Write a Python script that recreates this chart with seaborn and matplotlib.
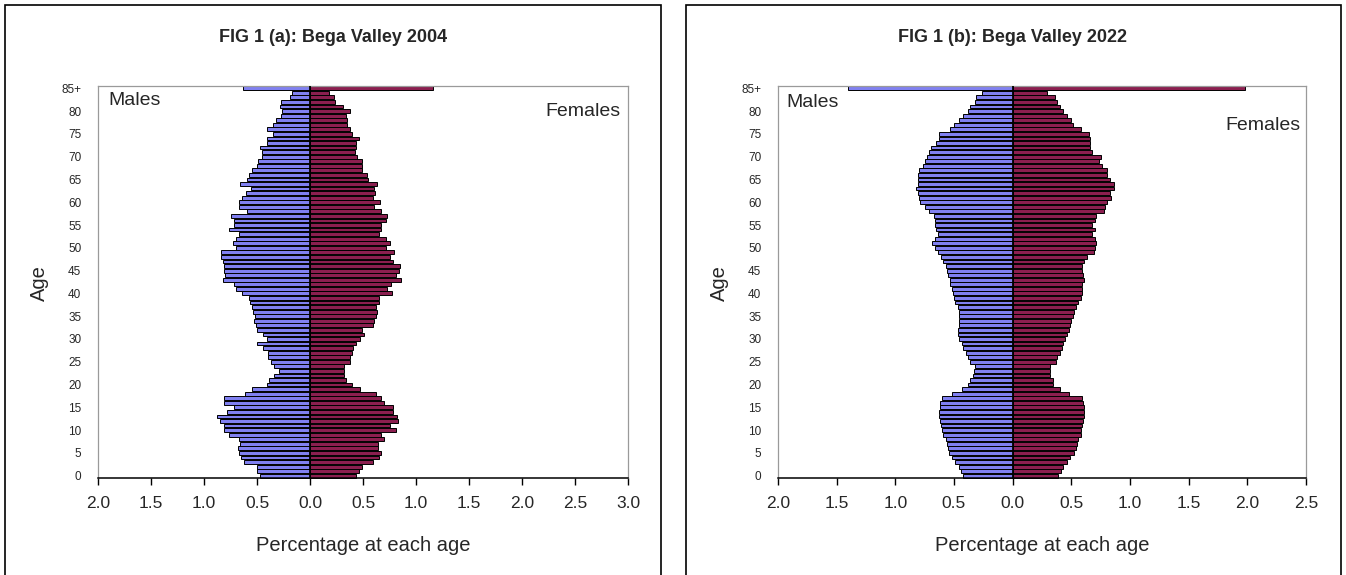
import numpy as np
import pandas as pd
import matplotlib
matplotlib.use("Agg")
import matplotlib.pyplot as plt
import seaborn as sns
from matplotlib.patches import Rectangle
from matplotlib.ticker import FuncFormatter

# ==========================
# Data: percentage of population at each single year of age (0..84, 85+)
# ==========================
age_labels = [str(a) for a in range(85)] + ["85+"]

males_2004 = [0.47, 0.50, 0.50, 0.62, 0.65, 0.67, 0.68, 0.66, 0.67, 0.76,
              0.81, 0.81, 0.85, 0.88, 0.78, 0.72, 0.81, 0.81, 0.61, 0.55,
              0.41, 0.39, 0.34, 0.29, 0.34, 0.37, 0.40, 0.40, 0.44, 0.50,
              0.41, 0.44, 0.50, 0.51, 0.53, 0.52, 0.54, 0.55, 0.57, 0.58,
              0.64, 0.70, 0.72, 0.82, 0.80, 0.81, 0.81, 0.82, 0.84, 0.84,
              0.70, 0.73, 0.70, 0.67, 0.76, 0.72, 0.72, 0.75, 0.59, 0.67,
              0.67, 0.64, 0.60, 0.56, 0.66, 0.59, 0.58, 0.55, 0.50, 0.49,
              0.45, 0.45, 0.47, 0.41, 0.41, 0.35, 0.41, 0.35, 0.32, 0.27,
              0.26, 0.28, 0.27, 0.19, 0.17, 0.63]
females_2004 = [0.43, 0.46, 0.49, 0.59, 0.65, 0.67, 0.64, 0.64, 0.70, 0.67,
                0.81, 0.75, 0.83, 0.82, 0.78, 0.78, 0.70, 0.67, 0.62, 0.47,
                0.40, 0.34, 0.32, 0.32, 0.32, 0.38, 0.38, 0.40, 0.41, 0.43,
                0.47, 0.51, 0.49, 0.59, 0.60, 0.62, 0.63, 0.62, 0.65, 0.65,
                0.77, 0.73, 0.76, 0.86, 0.81, 0.84, 0.85, 0.78, 0.75, 0.79,
                0.72, 0.75, 0.72, 0.65, 0.67, 0.67, 0.72, 0.73, 0.67, 0.60,
                0.66, 0.59, 0.61, 0.60, 0.63, 0.55, 0.54, 0.49, 0.49, 0.49,
                0.44, 0.42, 0.43, 0.43, 0.46, 0.40, 0.38, 0.35, 0.35, 0.34,
                0.38, 0.31, 0.24, 0.23, 0.18, 1.16]

males_2022 = [0.42, 0.44, 0.46, 0.49, 0.52, 0.54, 0.55, 0.56, 0.57, 0.59,
              0.60, 0.61, 0.62, 0.63, 0.63, 0.62, 0.62, 0.60, 0.52, 0.43,
              0.38, 0.36, 0.34, 0.33, 0.32, 0.36, 0.38, 0.40, 0.42, 0.43,
              0.46, 0.47, 0.47, 0.46, 0.46, 0.46, 0.46, 0.47, 0.49, 0.50,
              0.51, 0.52, 0.53, 0.53, 0.55, 0.56, 0.57, 0.59, 0.61, 0.64,
              0.66, 0.69, 0.66, 0.64, 0.65, 0.66, 0.66, 0.67, 0.71, 0.75,
              0.79, 0.80, 0.81, 0.82, 0.81, 0.81, 0.81, 0.80, 0.76, 0.75,
              0.73, 0.71, 0.70, 0.65, 0.63, 0.63, 0.53, 0.50, 0.46, 0.42,
              0.38, 0.36, 0.32, 0.31, 0.26, 1.40]
females_2022 = [0.39, 0.41, 0.43, 0.46, 0.49, 0.52, 0.54, 0.55, 0.56, 0.58,
                0.58, 0.59, 0.60, 0.61, 0.61, 0.61, 0.60, 0.59, 0.48, 0.40,
                0.34, 0.34, 0.32, 0.32, 0.32, 0.37, 0.38, 0.40, 0.42, 0.43,
                0.45, 0.46, 0.48, 0.49, 0.50, 0.51, 0.52, 0.54, 0.56, 0.58,
                0.59, 0.59, 0.59, 0.61, 0.60, 0.59, 0.59, 0.61, 0.63, 0.69,
                0.70, 0.71, 0.70, 0.68, 0.70, 0.68, 0.70, 0.71, 0.78, 0.79,
                0.80, 0.84, 0.83, 0.86, 0.86, 0.83, 0.80, 0.80, 0.76, 0.74,
                0.75, 0.68, 0.66, 0.66, 0.66, 0.65, 0.58, 0.51, 0.50, 0.46,
                0.43, 0.40, 0.38, 0.36, 0.29, 1.98]

male_colour = "#8080f0"
female_colour = "#8b1f4f"

sns.set_theme(style="white")
plt.rcParams["font.family"] = ["Liberation Sans", "DejaVu Sans"]

W, H = 1346, 575
fig = plt.figure(figsize=(W / 100, H / 100), dpi=100)


def pyramid(ax, males, females, xmax, title, title_x, males_pos, females_pos):
    df = pd.DataFrame({
        "age": age_labels * 2,
        "pct": [-m for m in males] + list(females),
        "sex": ["Males"] * len(males) + ["Females"] * len(females),
    })
    order = age_labels[::-1]
    sns.barplot(data=df, x="pct", y="age", hue="sex", order=order, orient="h",
                dodge=False, errorbar=None, saturation=1, width=0.84,
                palette={"Males": male_colour, "Females": female_colour},
                edgecolor="black", linewidth=0.7, legend=False, ax=ax)
    for p in ax.patches:
        p.set_clip_on(False)
    ax.axvline(0, color="black", lw=1.3, zorder=5)

    ax.set_xlim(-2, xmax)
    ax.set_ylim(85.5, -0.5)
    ax.set_xticks(np.arange(-2, xmax + 0.01, 0.5))
    ax.xaxis.set_major_formatter(FuncFormatter(lambda v, _: f"{abs(v):.1f}"))
    ticks_at = [a for a in range(0, 85, 5)]
    ax.set_yticks([85 - a for a in ticks_at] + [0])
    ax.set_yticklabels([str(a) for a in ticks_at] + ["85+"])

    ax.tick_params(axis="x", direction="out", length=5, width=1, color="black",
                   labelsize=12.5, pad=8, bottom=True)
    ax.tick_params(axis="y", length=0, labelsize=8.5, pad=12)
    for side in ["left", "top", "right"]:
        ax.spines[side].set_color("#9a9a9a")
        ax.spines[side].set_linewidth(0.9)
    ax.spines["bottom"].set_color("black")
    ax.spines["bottom"].set_linewidth(1.1)

    ax.set_xlabel("Percentage at each age", fontsize=14.5)
    ax.xaxis.set_label_coords(0.5, -0.171)
    ax.xaxis.label.set_va("center")
    ax.set_ylabel("Age", fontsize=14.5)
    ax.yaxis.set_label_coords(-0.11, 0.497)
    ax.yaxis.label.set_va("center")

    ax.text(males_pos[0], males_pos[1], "Males", transform=ax.transAxes,
            ha="left", va="center", fontsize=14)
    ax.text(females_pos[0], females_pos[1], "Females", transform=ax.transAxes,
            ha="right", va="center", fontsize=14)
    fig.text(title_x, 1 - 37 / H, title, ha="center", va="center",
             fontsize=13, fontweight="bold")


ax1 = fig.add_axes([98 / W, 1 - 478 / H, 530 / W, 392 / H])
ax2 = fig.add_axes([778 / W, 1 - 478 / H, 528 / W, 392 / H])

pyramid(ax1, males_2004, females_2004, 3.0, "FIG 1 (a): Bega Valley 2004",
        333 / W, (0.019, 0.962), (0.985, 0.934))
pyramid(ax2, males_2022, females_2022, 2.5, "FIG 1 (b): Bega Valley 2022",
        1012 / W, (0.015, 0.959), (0.989, 0.898))

# chart frames
for x0, x1 in [(5, 661), (686, 1341)]:
    fig.add_artist(Rectangle((x0 / W, -0.02), (x1 - x0) / W, 1.02 - 5 / H,
                             transform=fig.transFigure, fill=False,
                             edgecolor="black", lw=1.2))

fig.savefig("out.png", dpi=100)
